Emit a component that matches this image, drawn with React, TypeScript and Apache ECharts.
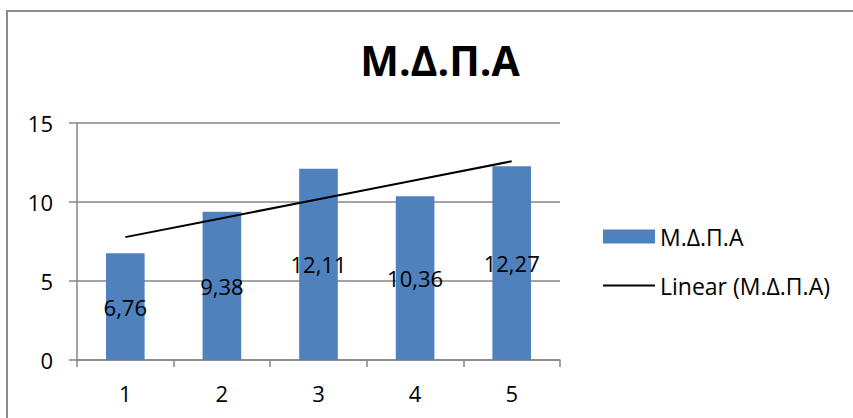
import React, { useEffect, useRef } from "react";
import * as echarts from "echarts";

const categories = ["1", "2", "3", "4", "5"];
const values = [6.76, 9.38, 12.11, 10.36, 12.27];
const seriesName = "Μ.Δ.Π.Α";
const trendName = "Linear (Μ.Δ.Π.Α)";
const titleText = "Μ.Δ.Π.Α";

function linearTrend(ys: number[]): number[] {
  const n = ys.length;
  const xs = ys.map((_, i) => i + 1);
  const mx = xs.reduce((a, b) => a + b, 0) / n;
  const my = ys.reduce((a, b) => a + b, 0) / n;
  let num = 0;
  let den = 0;
  for (let i = 0; i < n; i++) {
    num += (xs[i] - mx) * (ys[i] - my);
    den += (xs[i] - mx) * (xs[i] - mx);
  }
  const slope = num / den;
  const b = my - slope * mx;
  return xs.map((x) => +(b + slope * x).toFixed(4));
}

const FONT = "'Open Sans', sans-serif";

export default function App() {
  const ref = useRef<HTMLDivElement>(null);
  useEffect(() => {
    if (!ref.current) return;
    const chart = echarts.init(ref.current, undefined, { renderer: "svg" });
    const trend = linearTrend(values);
    chart.setOption({
      animation: false,
      backgroundColor: "#ffffff",
      textStyle: { fontFamily: FONT },
      title: {
        text: titleText,
        left: 435,
        top: 34,
        textAlign: "center",
        textStyle: { fontFamily: FONT, fontSize: 41, fontWeight: "bold", color: "#000" },
      },
      graphic: [
        {
          type: "rect",
          shape: { x: 7, y: 11, width: 900, height: 500 },
          style: { fill: "none", stroke: "#8c8c8c", lineWidth: 2 },
          silent: true,
        },
      ],
      legend: {
        orient: "vertical",
        left: 598,
        top: 220,
        itemWidth: 52,
        itemHeight: 14,
        itemGap: 26,
        textStyle: { fontFamily: FONT, fontSize: 23, lineHeight: 22, color: "#000" },
        data: [
          { name: seriesName, icon: "rect" },
          { name: trendName, icon: "path://M0,0H52V2H0Z" },
        ],
      },
      grid: { left: 77, right: 293, top: 123, bottom: 58, containLabel: false },
      xAxis: {
        type: "category",
        data: categories,
        boundaryGap: true,
        axisLine: { lineStyle: { color: "#868686", width: 1.5 } },
        axisTick: { show: true, length: 7, lineStyle: { color: "#868686", width: 1.5 } },
        axisLabel: { color: "#000", fontSize: 22, fontFamily: FONT, margin: 22 },
      },
      yAxis: {
        type: "value",
        min: 0,
        max: 15,
        interval: 5,
        axisLine: { show: true, lineStyle: { color: "#868686", width: 1.5 } },
        axisTick: { show: true, length: 8, lineStyle: { color: "#868686", width: 1.5 } },
        splitLine: { lineStyle: { color: "#868686", width: 1.5 } },
        axisLabel: { color: "#000", fontSize: 22, fontFamily: FONT, margin: 24 },
      },
      series: [
        {
          name: seriesName,
          type: "bar",
          data: values,
          barWidth: "40%",
          itemStyle: { color: "#4f81bd" },
          label: {
            show: true,
            position: "inside",
            color: "#000",
            fontSize: 22,
            fontFamily: FONT,
            formatter: (p: any) => String(p.value).replace(".", ","),
          },
        },
        {
          name: trendName,
          type: "line",
          data: trend,
          symbol: "none",
          lineStyle: { color: "#000", width: 2 },
          itemStyle: { color: "#000" },
          z: 3,
        },
      ],
    });
    return () => chart.dispose();
  }, []);
  return (
    <div
      ref={ref}
      style={{ position: "absolute", left: 0, top: 0, width: 853, height: 418 }}
    />
  );
}
